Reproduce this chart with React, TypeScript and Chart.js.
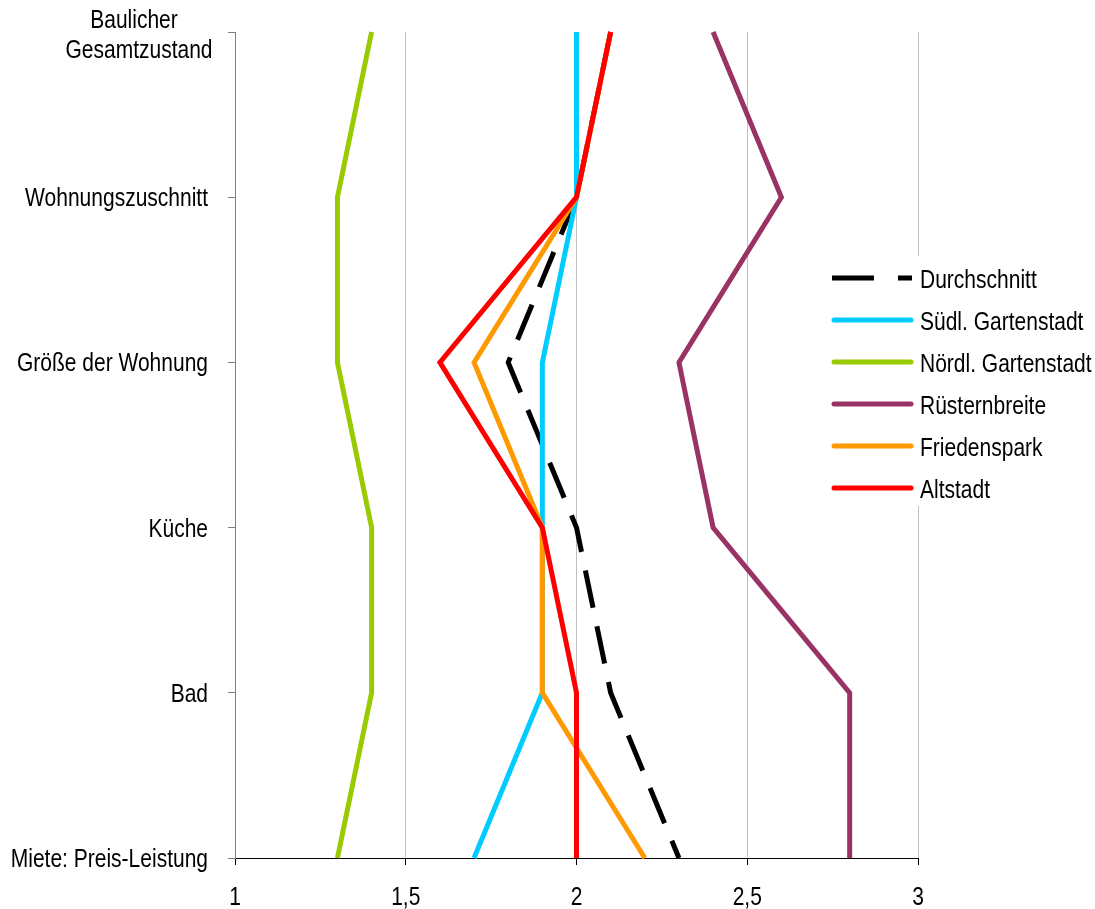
import React, { useEffect, useRef } from "react";
import { Chart, registerables } from "chart.js";

Chart.register(...registerables);

const categories: (string | string[])[] = [
  ["Baulicher", "Gesamtzustand"],
  "Wohnungszuschnitt",
  "Größe der Wohnung",
  "Küche",
  "Bad",
  "Miete: Preis-Leistung",
];

const durchschnitt = [2.1, 2.0, 1.8, 2.0, 2.1, 2.3];
const suedlGartenstadt = [2.0, 2.0, 1.9, 1.9, 1.9, 1.7];
const noerdlGartenstadt = [1.4, 1.3, 1.3, 1.4, 1.4, 1.3];
const ruesternbreite = [2.4, 2.6, 2.3, 2.4, 2.8, 2.8];
const friedenspark = [2.1, 2.0, 1.7, 1.9, 1.9, 2.2];
const altstadt = [2.1, 2.0, 1.6, 1.9, 2.0, 2.0];

const seriesNames = [
  "Durchschnitt",
  "Südl. Gartenstadt",
  "Nördl. Gartenstadt",
  "Rüsternbreite",
  "Friedenspark",
  "Altstadt",
];
const seriesColors = ["#000000", "#00CCFF", "#99CC00", "#993366", "#FF9900", "#FF0000"];
const xTicks = [1, 1.5, 2, 2.5, 3];
const xTickLabels = ["1", "1,5", "2", "2,5", "3"];

const FONT = '25px "Liberation Sans", Arial, sans-serif';
const NARROW = 0.84;

function drawText(ctx: CanvasRenderingContext2D, text: string, x: number, y: number, align: CanvasTextAlign) {
  ctx.save();
  ctx.translate(x, y);
  ctx.scale(NARROW, 1);
  ctx.font = FONT;
  ctx.fillStyle = "#000";
  ctx.textBaseline = "alphabetic";
  ctx.textAlign = align;
  ctx.fillText(text, 0, 0);
  ctx.restore();
}

const labelPlugin = {
  id: "customLabels",
  afterDraw(chart: any) {
    const ctx = chart.ctx;
    const yScale = chart.scales.y;
    const xScale = chart.scales.x;
    ctx.save();
    categories.forEach((lab, i) => {
      const y = yScale.getPixelForValue(i);
      if (Array.isArray(lab)) {
        drawText(ctx, lab[0], 134, y - 4, "center");
        drawText(ctx, lab[1], 139, y + 26, "center");
      } else {
        drawText(ctx, lab, 208, y + 9, "right");
      }
    });
    // x tick labels
    xTicks.forEach((v, i) => {
      drawText(ctx, xTickLabels[i], xScale.getPixelForValue(v), 905, "center");
    });
    // legend
    const lx = 826;
    const ly = 256;
    ctx.fillStyle = "#fff";
    ctx.fillRect(lx, ly, 1095 - lx, 250);
    seriesNames.forEach((name, i) => {
      const cy = 278 + i * 42;
      ctx.beginPath();
      ctx.strokeStyle = seriesColors[i];
      ctx.lineWidth = 5;
      if (i === 0) {
        ctx.setLineDash([42, 24]);
        ctx.lineCap = "butt";
      } else {
        ctx.setLineDash([]);
        ctx.lineCap = "round";
      }
      ctx.moveTo(i === 0 ? 832 : 834, cy);
      ctx.lineTo(i === 0 ? 912 : 911, cy);
      ctx.stroke();
      ctx.setLineDash([]);
      drawText(ctx, name, 920, cy + 10, "left");
    });
    ctx.restore();
  },
};

export default function App() {
  const ref = useRef<HTMLCanvasElement | null>(null);
  useEffect(() => {
    if (!ref.current) return;
    const dataArrays = [durchschnitt, suedlGartenstadt, noerdlGartenstadt, ruesternbreite, friedenspark, altstadt];
    const chart = new Chart(ref.current, {
      type: "line",
      data: {
        labels: categories.map((c) => (Array.isArray(c) ? c.join(" ") : c)),
        datasets: dataArrays.map((d, i) => ({
          label: seriesNames[i],
          data: d,
          borderColor: seriesColors[i],
          backgroundColor: seriesColors[i],
          borderWidth: 5,
          borderDash: i === 0 ? [38, 19] : [],
          borderCapStyle: "butt",
          borderJoinStyle: "miter",
          pointRadius: 0,
          pointHoverRadius: 0,
          tension: 0,
          fill: false,
          order: 6 - i,
        })),
      },
      options: {
        indexAxis: "y",
        animation: false,
        responsive: false,
        devicePixelRatio: 1,
        events: [],
        layout: { padding: { left: 0, right: 177, top: 32, bottom: 0 } },
        plugins: {
          legend: { display: false },
          tooltip: { enabled: false },
          title: { display: false },
        },
        scales: {
          x: {
            type: "linear",
            position: "bottom",
            min: 1,
            max: 3,
            afterBuildTicks: (scale: any) => {
              scale.ticks = xTicks.map((v) => ({ value: v }));
            },
            afterFit: (scale: any) => {
              scale.height = 51;
            },
            ticks: { display: false },
            grid: {
              color: "#c0c0c0",
              lineWidth: 1,
              drawTicks: true,
              tickLength: 7,
              tickColor: "#000",
            },
            border: { display: true, color: "#000", width: 1 },
          },
          y: {
            type: "category",
            position: "left",
            offset: false,
            afterFit: (scale: any) => {
              scale.width = 235;
            },
            ticks: { display: false },
            grid: {
              drawOnChartArea: false,
              drawTicks: true,
              tickLength: 7,
              color: "#808080",
              tickColor: "#808080",
            },
            border: { display: true, color: "#808080", width: 1 },
          },
        },
      } as any,
      plugins: [labelPlugin],
    });
    return () => chart.destroy();
  }, []);
  return (
    <div style={{ position: "absolute", left: 0, top: 0, width: 1095, height: 909, background: "#fff" }}>
      <canvas ref={ref} width={1095} height={909} style={{ display: "block" }} />
    </div>
  );
}
